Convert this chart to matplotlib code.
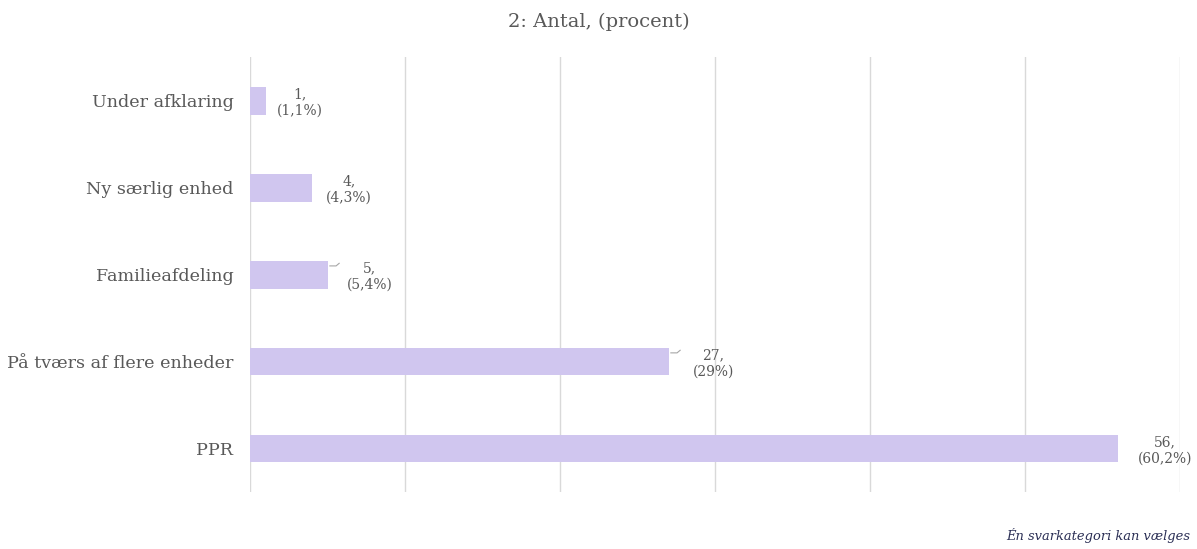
import matplotlib
matplotlib.use("Agg")
import matplotlib.pyplot as plt

categories = ["PPR", "På tværs af flere enheder", "Familieafdeling", "Ny særlig enhed", "Under afklaring"]
counts = [56, 27, 5, 4, 1]
percents = ["60,2%", "29%", "5,4%", "4,3%", "1,1%"]
title = "2: Antal, (procent)"
footer = "Én svarkategori kan vælges"

plt.rcParams['font.family'] = ['DejaVu Serif']
fig = plt.figure(figsize=(11.97, 5.49), dpi=100)
ax = fig.add_axes([0.2089, 0.1038, 0.7769, 0.792])

y = range(len(categories))
ax.barh(y, counts, height=0.32, color="#d0c6ef", zorder=3)
ax.set_xlim(0, 60)
ax.set_ylim(-0.5, 4.5)
ax.set_xticks(range(0, 61, 10))
ax.set_xticklabels([])
ax.tick_params(axis='both', length=0)
ax.grid(axis='x', color="#d9d9d9", linewidth=1, zorder=0)
for s in ax.spines.values():
    s.set_visible(False)
ax.set_yticks(list(y))
ax.set_yticklabels(categories, fontsize=12.6, color="#595959")
ax.tick_params(axis='y', pad=12)

offsets = [3.05, 2.9, 2.7, 2.4, 2.2]
leader = [False, True, True, False, False]
for i, (c, p) in enumerate(zip(counts, percents)):
    xt = c + offsets[i]
    ax.text(xt, i - 0.02, f"{c},\n({p})", ha='center', va='center', fontsize=10,
            color="#595959", linespacing=1.25, zorder=4)
    if leader[i]:
        ax.plot([c + 0.15, c + 0.55, c + 0.75], [i + 0.1, i + 0.1, i + 0.13],
                color="#a6a6a6", linewidth=0.8, zorder=4)

fig.text(0.5, 0.96, title, ha='center', va='center', fontsize=14, color="#595959")
fig.text(0.994, 0.025, footer, ha='right', va='center', fontsize=9.4,
         style='italic', color="#2b2f55")

fig.savefig("out.png", dpi=100)
